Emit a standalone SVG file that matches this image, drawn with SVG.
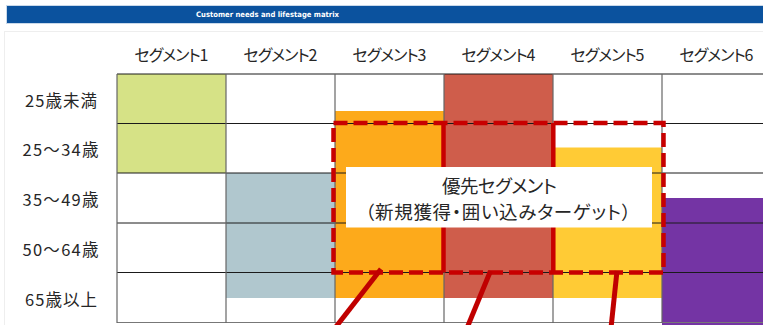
<svg xmlns="http://www.w3.org/2000/svg" width="763" height="325" viewBox="0 0 763 325">
<style>
.t{font-family:"Noto Sans CJK JP","Noto Sans",sans-serif;fill:#262626;dominant-baseline:central;text-anchor:middle;font-feature-settings:"palt"}
.h{font-size:16px}
.r{font-size:16.5px}
.b{font-size:18.5px}
.gh{stroke:#1a1a1a;stroke-width:1}
.gv{stroke:#666;stroke-width:1.2}
.dash{fill:none;stroke:#c80000;stroke-width:4.5;stroke-dasharray:14 6}
.sol{stroke:#c80000;stroke-width:4.5}
.lead{stroke:#c00000;stroke-width:5;stroke-linecap:butt}
</style>
<rect width="763" height="325" fill="#fff"/>
<rect x="4.5" y="31.5" width="800" height="300" fill="none" stroke="#eeeeee"/>
<g id="title">
<rect x="6.5" y="5.5" width="760" height="18" fill="#0b529e" stroke="#c9d9ea" stroke-width="1"/>
<text x="267.5" y="14.8" font-family="DejaVu Sans,sans-serif" font-weight="bold" font-size="7.5" fill="#fff" text-anchor="middle" dominant-baseline="central" textLength="143" lengthAdjust="spacingAndGlyphs">Customer needs and lifestage matrix</text>
</g>
<g id="fills">
<rect x="117" y="74" width="109" height="99" fill="#d6e286"/>
<rect x="226" y="173" width="109" height="125" fill="#b0c7ce"/>
<rect x="335" y="111" width="109" height="187" fill="#fdaa1b"/>
<rect x="444" y="74" width="109" height="224" fill="#cf5d4b"/>
<rect x="553" y="147.5" width="109" height="150.5" fill="#ffcb35"/>
<rect x="662" y="198" width="101" height="127" fill="#7434a4"/>
</g>
<g id="grid">
<line class="gh" x1="117" y1="74" x2="763" y2="74"/>
<line class="gh" x1="117" y1="123.5" x2="763" y2="123.5"/>
<line class="gh" x1="117" y1="173" x2="763" y2="173"/>
<line class="gh" x1="117" y1="223" x2="763" y2="223"/>
<line class="gh" x1="117" y1="272.5" x2="763" y2="272.5"/>
<line x1="117" y1="322.5" x2="763" y2="322.5" stroke="#777" stroke-width="1.2"/>
<line class="gv" x1="117" y1="74" x2="117" y2="323"/>
<line class="gv" x1="226" y1="74" x2="226" y2="323"/>
<line class="gv" x1="335" y1="74" x2="335" y2="323"/>
<line class="gv" x1="444" y1="74" x2="444" y2="323"/>
<line class="gv" x1="553" y1="74" x2="553" y2="323"/>
<line class="gv" x1="662" y1="74" x2="662" y2="323"/>
</g>
<g id="headers">
<text class="t h" x="171.5" y="54" textLength="74">セグメント1</text>
<text class="t h" x="280.5" y="54" textLength="74">セグメント2</text>
<text class="t h" x="389.5" y="54" textLength="74">セグメント3</text>
<text class="t h" x="498.5" y="54" textLength="74">セグメント4</text>
<text class="t h" x="607.5" y="54" textLength="74">セグメント5</text>
<text class="t h" x="716.5" y="54" textLength="74">セグメント6</text>
</g>
<g id="rowlabels">
<text class="t r" x="61" y="99.5" textLength="72">25歳未満</text>
<text class="t r" x="60.5" y="148.5" textLength="76">25〜34歳</text>
<text class="t r" x="60.5" y="199" textLength="76">35〜49歳</text>
<text class="t r" x="60.5" y="248.5" textLength="76">50〜64歳</text>
<text class="t r" x="61" y="298.5" textLength="72">65歳以上</text>
</g>
<g id="connectors">
<rect class="dash" x="333.5" y="123" width="330" height="149.5"/>
<line class="sol" x1="443.5" y1="123" x2="443.5" y2="272.5"/>
<line class="sol" x1="553.3" y1="123" x2="553.3" y2="272.5"/>
<line class="lead" x1="381" y1="269" x2="335" y2="328"/>
<line class="lead" x1="490.5" y1="271" x2="467" y2="328"/>
<line class="lead" x1="617" y1="271" x2="611" y2="328"/>
</g>
<g id="priority">
<rect x="346" y="167" width="306" height="60.5" fill="#fff"/>
<text class="t b" x="499.5" y="185" textLength="115">優先セグメント</text>
<text class="t b" x="498" y="211" textLength="266">（新規獲得・囲い込みターゲット）</text>
</g>
</svg>
